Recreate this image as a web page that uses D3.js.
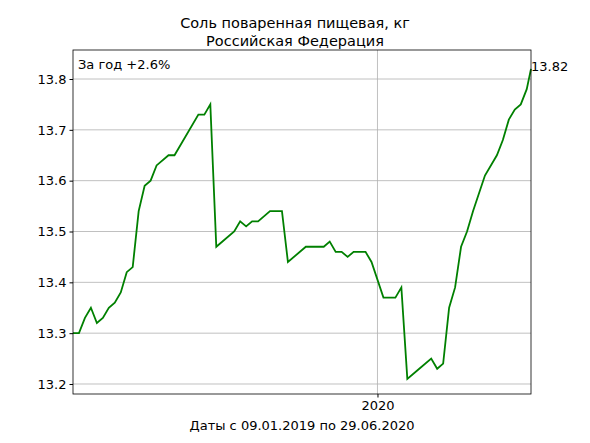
<!DOCTYPE html><html><head><meta charset="utf-8"><script src="https://cdn.jsdelivr.net/npm/d3@7"></script>
<style>body{margin:0;background:#fff}text{font-family:"DejaVu Sans";fill:#000}</style></head><body><svg width="590" height="443"></svg><script>
const startDate="2019-01-09", endDate="2020-06-29";
const weeks=[0,1,2,3,4,5,6,7,8,9,10,11,12,13,14,16,17,21,22,23,24,27,28,29,30,31,33,35,36,39,42,43,44,45,46,47,49,50,52,54,55,56,58,60,61,62,63,64,65,66,67,69,71,72,73,74,75,76,"end"];
const values=[13.30,13.30,13.33,13.35,13.32,13.33,13.35,13.36,13.38,13.42,13.43,13.54,13.59,13.60,13.63,13.65,13.65,13.73,13.73,13.75,13.47,13.50,13.52,13.51,13.52,13.52,13.54,13.54,13.44,13.47,13.47,13.48,13.46,13.46,13.45,13.46,13.46,13.44,13.37,13.37,13.39,13.21,13.23,13.25,13.23,13.24,13.35,13.39,13.47,13.50,13.54,13.61,13.65,13.68,13.72,13.74,13.75,13.78,13.82];
const yTicks=[13.2,13.3,13.4,13.5,13.6,13.7,13.8];
const title=["Соль поваренная пищевая, кг","Российская Федерация"];
const s0=new Date(startDate+"T00:00:00Z"), e0=new Date(endDate+"T00:00:00Z");
const data=weeks.map((w,i)=>({d:w==="end"?e0:new Date(s0.getTime()+w*7*864e5),v:values[i]}));
const L=73,R=531,T=50,B=394;
const svg=d3.select("svg");
const x=d3.scaleUtc().domain([s0,e0]).range([L,R]);
const y=d3.scaleLinear().domain([13.2-10/508.3,13.8+29/508.3]).range([B,T]);
const g=svg.append("g");
yTicks.forEach(t=>g.append("line").attr("x1",L).attr("x2",R).attr("y1",y(t)).attr("y2",y(t)).attr("stroke","#b0b0b0").attr("stroke-width",0.8));
const x2020=new Date("2020-01-01T00:00:00Z");
g.append("line").attr("x1",x(x2020)).attr("x2",x(x2020)).attr("y1",T).attr("y2",B).attr("stroke","#b0b0b0").attr("stroke-width",0.8);
svg.append("g").attr("transform",`translate(${L},0)`).call(d3.axisLeft(y).tickValues(yTicks).tickFormat(d3.format(".1f")).tickSize(3.5)).call(a=>{a.select(".domain").remove();a.selectAll("text").style("font-size","13px").attr("font-family","DejaVu Sans")});
svg.append("g").attr("transform",`translate(0,${B})`).call(d3.axisBottom(x).tickValues([x2020]).tickFormat(()=>"2020").tickSize(3.5)).call(a=>{a.select(".domain").remove();a.selectAll("text").style("font-size","13px").attr("font-family","DejaVu Sans")});
svg.append("path").datum(data).attr("fill","none").attr("stroke","#008000").attr("stroke-width",1.8).attr("d",d3.line().x(d=>x(d.d)).y(d=>y(d.v)));
svg.append("rect").attr("x",L).attr("y",T).attr("width",R-L).attr("height",B-T).attr("fill","none").attr("stroke","#000").attr("stroke-width",0.8);
svg.append("text").attr("x",295).attr("y",28).attr("text-anchor","middle").style("font-size","14.5px").text(title[0]);
svg.append("text").attr("x",295).attr("y",46).attr("text-anchor","middle").style("font-size","14.5px").text(title[1]);
svg.append("text").attr("x",78).attr("y",69).style("font-size","13px").text("За год +2.6%");
const last=data[data.length-1];
svg.append("text").attr("x",x(last.d)).attr("y",y(last.v)+2).style("font-size","13px").text(last.v.toFixed(2));
svg.append("text").attr("x",302).attr("y",430).attr("text-anchor","middle").style("font-size","13px").text("Даты с 09.01.2019 по 29.06.2020");
</script></body></html>
